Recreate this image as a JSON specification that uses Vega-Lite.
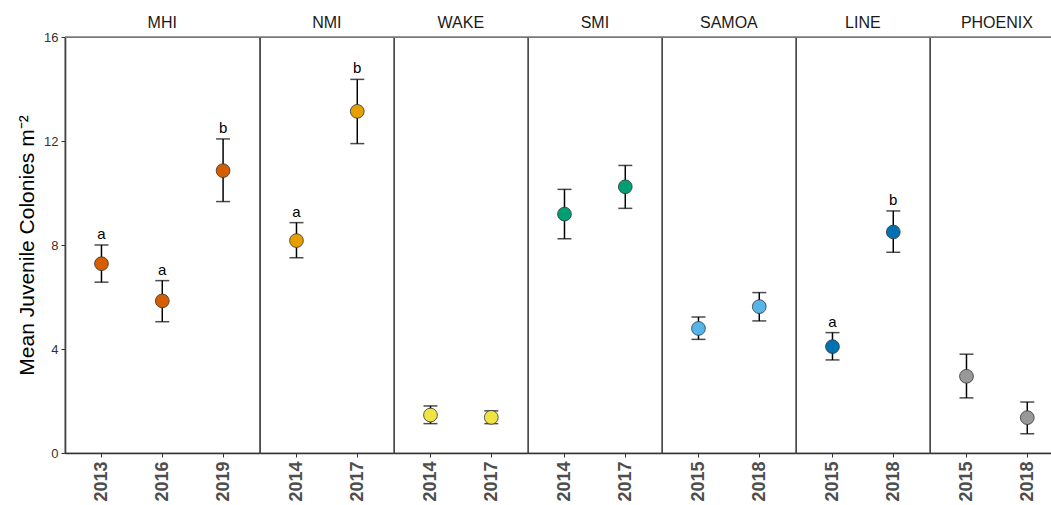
{
  "$schema": "https://vega.github.io/schema/vega-lite/v6.json",
  "background": "white",
  "padding": {"left": 16, "top": 15, "right": 0, "bottom": 0},
  "bounds": "flush",
  "data": {
    "values": [
      {"region": "MHI", "year": "2013", "mean": 7.28, "lo": 6.57, "hi": 8.0, "letter": "a"},
      {"region": "MHI", "year": "2016", "mean": 5.85, "lo": 5.05, "hi": 6.63, "letter": "a"},
      {"region": "MHI", "year": "2019", "mean": 10.86, "lo": 9.67, "hi": 12.08, "letter": "b"},
      {"region": "NMI", "year": "2014", "mean": 8.17, "lo": 7.51, "hi": 8.86, "letter": "a"},
      {"region": "NMI", "year": "2017", "mean": 13.14, "lo": 11.9, "hi": 14.37, "letter": "b"},
      {"region": "WAKE", "year": "2014", "mean": 1.46, "lo": 1.13, "hi": 1.81, "letter": ""},
      {"region": "WAKE", "year": "2017", "mean": 1.37, "lo": 1.13, "hi": 1.62, "letter": ""},
      {"region": "SMI", "year": "2014", "mean": 9.19, "lo": 8.24, "hi": 10.14, "letter": ""},
      {"region": "SMI", "year": "2017", "mean": 10.24, "lo": 9.41, "hi": 11.06, "letter": ""},
      {"region": "SAMOA", "year": "2015", "mean": 4.79, "lo": 4.37, "hi": 5.23, "letter": ""},
      {"region": "SAMOA", "year": "2018", "mean": 5.63, "lo": 5.08, "hi": 6.17, "letter": ""},
      {"region": "LINE", "year": "2015", "mean": 4.09, "lo": 3.58, "hi": 4.63, "letter": "a"},
      {"region": "LINE", "year": "2018", "mean": 8.5, "lo": 7.72, "hi": 9.31, "letter": "b"},
      {"region": "PHOENIX", "year": "2015", "mean": 2.95, "lo": 2.12, "hi": 3.8, "letter": ""},
      {"region": "PHOENIX", "year": "2018", "mean": 1.36, "lo": 0.74, "hi": 1.96, "letter": ""}
    ]
  },
  "spacing": 0,
  "facet": {
    "column": {
      "field": "region",
      "type": "nominal",
      "sort": ["MHI", "NMI", "WAKE", "SMI", "SAMOA", "LINE", "PHOENIX"],
      "header": {
        "title": null,
        "labelFont": "Liberation Sans",
        "labelFontSize": 16,
        "labelColor": "#1a1a1a",
        "labelPadding": 6
      }
    }
  },
  "resolve": {"scale": {"x": "independent"}},
  "spec": {
    "width": {"step": 60.8},
    "height": 416,
    "layer": [
      {
        "data": {"values": [{"top": 16}]},
        "mark": {"type": "rule", "color": "#8a8a8a", "strokeWidth": 1.4},
        "encoding": {"y": {"field": "top", "type": "quantitative", "scale": {"domain": [0, 16]}}}
      },
      {
        "mark": {"type": "rule", "color": "black", "strokeWidth": 1.5},
        "encoding": {
          "x": {"field": "year", "type": "ordinal"},
          "y": {"field": "lo", "type": "quantitative"},
          "y2": {"field": "hi"}
        }
      },
      {
        "mark": {"type": "tick", "color": "black", "size": 14, "thickness": 1.5},
        "encoding": {
          "x": {"field": "year", "type": "ordinal"},
          "y": {"field": "lo", "type": "quantitative"}
        }
      },
      {
        "mark": {"type": "tick", "color": "black", "size": 14, "thickness": 1.5},
        "encoding": {
          "x": {"field": "year", "type": "ordinal"},
          "y": {"field": "hi", "type": "quantitative"}
        }
      },
      {
        "mark": {"type": "point", "shape": "circle", "filled": true, "size": 190, "stroke": "#333333", "strokeWidth": 0.8, "opacity": 1},
        "encoding": {
          "x": {
            "field": "year",
            "type": "ordinal",
            "scale": {"type": "point", "padding": 0.6},
            "axis": {
              "title": null,
              "labelAngle": -90,
              "labelFont": "Liberation Sans",
              "labelFontSize": 18,
              "labelFontWeight": "bold",
              "labelColor": "#4d4d4d",
              "labelPadding": 4,
              "tickSize": 4,
              "tickColor": "#333333",
              "domainColor": "#333333",
              "domainWidth": 1.6
            }
          },
          "y": {
            "field": "mean",
            "type": "quantitative",
            "scale": {"domain": [0, 16], "nice": false, "zero": true},
            "axis": {
              "title": "Mean Juvenile Colonies  m⁻²",
              "titleFont": "Liberation Sans",
              "titleFontSize": 21,
              "titleFontWeight": "normal",
              "titleColor": "black",
              "titlePadding": 6.5,
              "values": [0, 4, 8, 12, 16],
              "labelFont": "Liberation Sans",
              "labelFontSize": 13,
              "labelColor": "#333333",
              "labelPadding": 3,
              "tickSize": 4,
              "tickColor": "#333333",
              "domainColor": "#333333",
              "domainWidth": 1.6,
              "grid": false
            }
          },
          "fill": {
            "field": "region",
            "type": "nominal",
            "scale": {
              "domain": ["MHI", "NMI", "WAKE", "SMI", "SAMOA", "LINE", "PHOENIX"],
              "range": ["#D55E00", "#E69F00", "#F0E442", "#009E73", "#56B4E9", "#0072B2", "#999999"]
            },
            "legend": null
          }
        }
      },
      {
        "mark": {"type": "text", "font": "Liberation Sans", "fontSize": 15, "color": "black", "baseline": "alphabetic", "dy": -6},
        "encoding": {
          "x": {"field": "year", "type": "ordinal"},
          "y": {"field": "hi", "type": "quantitative"},
          "text": {"field": "letter"}
        }
      }
    ]
  },
  "config": {
    "view": {"stroke": "#444444", "strokeWidth": 1.2},
    "axis": {"grid": false}
  }
}
